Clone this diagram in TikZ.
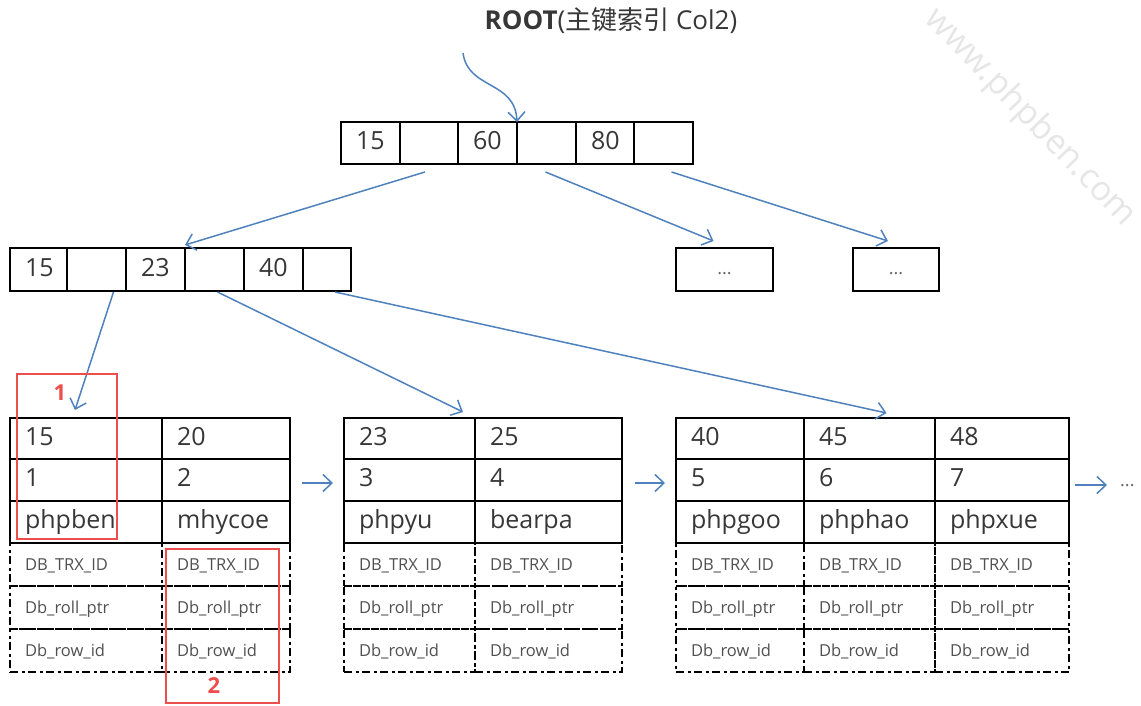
\documentclass[tikz,border=0pt]{standalone}
\usepackage{fontspec}
\setmainfont{Open Sans}
\newfontfamily\cjkfont{Noto Sans CJK SC}
\usetikzlibrary{arrows.meta,calc}

\definecolor{linkblue}{RGB}{79,129,189}
\definecolor{inkgrey}{RGB}{55,55,55}
\definecolor{fieldgrey}{RGB}{80,80,80}
\definecolor{markred}{RGB}{236,78,78}
\definecolor{wmgrey}{RGB}{230,230,230}

\tikzset{
  cellbase/.style={draw=black, inner xsep=15pt, inner ysep=0pt, outer sep=0pt, align=left},
  keycell/.style={cellbase, line width=1.5pt, text=inkgrey,
    font=\fontsize{25}{29}\selectfont, text height=17.5pt, text depth=4pt},
  fieldcell/.style={cellbase, line width=1.5pt,
    dash pattern=on 8pt off 3.5pt on 3pt off 3.5pt, text=fieldgrey,
    font=\fontsize{16.5}{19}\selectfont, text height=12pt, text depth=1pt},
  dotbox/.style={draw=black, line width=1.5pt, inner sep=0pt, outer sep=0pt,
    minimum height=43pt, anchor=north west, text=black!60,
    font=\fontsize{18}{20}\selectfont, text height=10pt, text depth=0pt},
  link/.style={draw=linkblue, line width=1.5pt,
    -{Straight Barb[length=9pt,width=17pt,line width=1.5pt]}},
  markbox/.style={draw=markred, line width=1.5pt, inner sep=0pt, outer sep=0pt,
    anchor=north west},
  marktext/.style={text=markred, font=\fontsize{22}{24}\selectfont\bfseries, inner sep=0pt},
}

% \cell{style}{name}{x}{y}{width}{height}{text}: left-aligned cell with 15pt padding
\newcommand\cell[7]{%
  \pgfmathsetlengthmacro\celltw{#5pt-30pt}%
  \node[#1, anchor=north west, text width=\celltw, minimum height=#6pt] (#2) at (#3,#4) {#7};%
}

% \leafcol{leaf}{column}{x}{width}{key}{id}{name}: one record of a leaf page
\newcommand\leafcol[7]{%
  \cell{fieldcell}{#1#2-4}{#3}{543}{#4}{43}{DB\_TRX\_ID}
  \cell{fieldcell}{#1#2-5}{#3}{586}{#4}{43}{Db\_roll\_ptr}
  \cell{fieldcell}{#1#2-6}{#3}{629}{#4}{43}{Db\_row\_id}
  \cell{keycell}{#1#2-1}{#3}{418}{#4}{41}{#5}
  \cell{keycell}{#1#2-2}{#3}{459}{#4}{42}{#6}
  \cell{keycell}{#1#2-3}{#3}{501}{#4}{42}{#7}
}

\begin{document}
\begin{tikzpicture}[x=1pt,y=-1pt]
\useasboundingbox (0,0) rectangle (1141,706);

% site mark
\node[text=wmgrey, font=\fontsize{34}{36}\selectfont, rotate=-46] (site) at (1030,118) {www.phpben.com};

% title
\node[text=inkgrey, font=\fontsize{26}{30}\selectfont, inner sep=0pt] (title) at (611,21)
  {\textbf{ROOT}({\cjkfont 主键索引} Col2)};
\coordinate (rootin) at (463,53);

% root page
\cell{keycell}{r1}{341}{122}{59}{42}{15}
\cell{keycell}{r2}{400}{122}{58}{42}{}
\cell{keycell}{r3}{458}{122}{59}{42}{60}
\cell{keycell}{r4}{517}{122}{59}{42}{}
\cell{keycell}{r5}{576}{122}{58}{42}{80}
\cell{keycell}{r6}{634}{122}{59}{42}{}

% second level pages
\cell{keycell}{q1}{10}{248}{57}{43}{15}
\cell{keycell}{q2}{67}{248}{59}{43}{}
\cell{keycell}{q3}{126}{248}{59}{43}{23}
\cell{keycell}{q4}{185}{248}{59}{43}{}
\cell{keycell}{q5}{244}{248}{59}{43}{40}
\cell{keycell}{q6}{303}{248}{48}{43}{}
\node[dotbox, minimum width=97pt] (d1) at (676,248) {...};
\node[dotbox, minimum width=86pt] (d2) at (853,248) {...};

% leaf pages
\leafcol{A}{1}{10}{152}{15}{1}{phpben}
\leafcol{A}{2}{162}{128}{20}{2}{mhycoe}
\leafcol{B}{1}{344}{131}{23}{3}{phpyu}
\leafcol{B}{2}{475}{147}{25}{4}{bearpa}
\leafcol{C}{1}{676}{128}{40}{5}{phpgoo}
\leafcol{C}{2}{804}{131}{45}{6}{phphao}
\leafcol{C}{3}{935}{134}{48}{7}{phpxue}
\node[text=black!60, font=\fontsize{18}{20}\selectfont, inner sep=0pt,
  text height=2pt, text depth=0pt, anchor=west] (more) at (1120,485) {...};

% pointers
\draw[link] (rootin) .. controls (468,90) and (515,80) .. (r4.north west);
\draw[link] ([shift={(-4,8)}]r2.south) -- ([shift={(0,-3)}]q4.north west);
\draw[link] ([shift={(-1,8)}]r4.south) -- ([shift={(-11,-7)}]d1.north);
\draw[link] ([shift={(8,8)}]r6.south) -- ([shift={(-8,-7)}]d2.north);
\draw[link] ([shift={(17,1)}]q2.south) -- ([shift={(-11,-8)}]A1-1.north);
\draw[link] ([shift={(3,1)}]q4.south) -- ([shift={(-12,-6)}]B1-1.north east);
\draw[link] ([shift={(8,1)}]q6.south) -- ([shift={(17,-5)}]C2-1.north);

% leaf chain
\draw[link] ([shift={(12,3)}]A2-2.east) -- ([shift={(-11,3)}]B1-2.west);
\draw[link] ([shift={(13,3)}]B2-2.east) -- ([shift={(-11,3)}]C1-2.west);
\draw[link] ([shift={(6,5)}]C3-2.east) -- ([xshift=-13]more.west);

% highlighted records
\node[markbox, minimum width=100pt, minimum height=165pt] (mark1) at (17,374) {};
\node[markbox, minimum width=113pt, minimum height=154pt] (mark2) at (166,549) {};
\node[marktext] (mark1n) at (60,393) {1};
\node[marktext] (mark2n) at (214,686) {2};
\end{tikzpicture}
\end{document}
